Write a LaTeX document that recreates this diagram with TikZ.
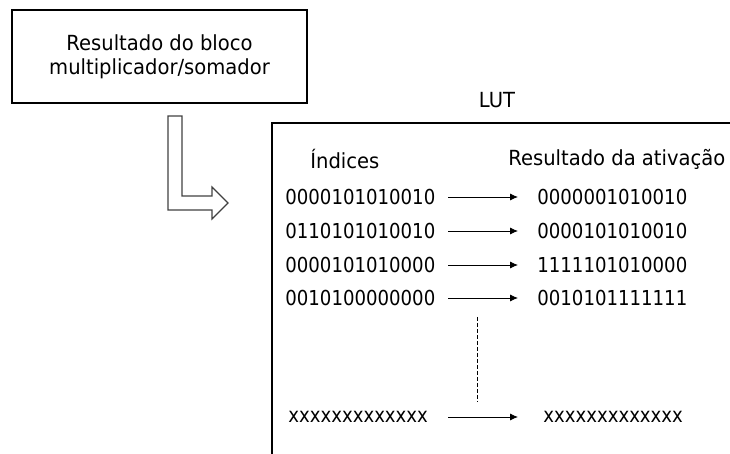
\documentclass[tikz,border=0pt]{standalone}
\usepackage{fontspec}
\setmainfont{DejaVu Sans}[FakeStretch=0.94]
\newfontfamily\bitfont{DejaVu Sans}[FakeStretch=0.88]
\usetikzlibrary{arrows.meta}

\begin{document}
\begin{tikzpicture}[
  x=0.5pt, y=-0.5pt,
  box/.style={draw, thick, minimum width=147.5pt, minimum height=46.5pt, align=center, font=\fontsize{10.4}{12.2}\selectfont},
  txt/.style={anchor=west, inner sep=0pt, font=\fontsize{10.4}{12}\selectfont},
  bits/.style={anchor=west, inner sep=0pt, font=\bitfont\fontsize{10.3}{12}\selectfont},
  arr/.style={-{Latex[length=4pt,width=3.5pt]}, thin},
  frame/.style={draw, line width=0.7pt}
]
  \useasboundingbox (0,0) rectangle (730,454);

  % source block
  \node[box] (blk) at (159.5,56.5) {Resultado do bloco\\multiplicador/somador};

  % hollow bent arrow
  \draw[line width=0.6pt, draw=black!75] (168,116) -- (182,116) -- (182,196) -- (212,196) -- (212,187)
    -- (228,203) -- (212,219) -- (212,210) -- (168,210) -- cycle;

  % LUT frame (open on the right and bottom)
  \coordinate (lutbl) at (272,454);
  \coordinate (luttl) at (272,123);
  \coordinate (luttr) at (730,123);
  \draw[frame] (lutbl) -- (luttl) -- (luttr);
  \node[inner sep=0pt, font=\fontsize{10.4}{12}\selectfont] (lut) at (497,100) {LUT};

  % headers
  \node[txt] (hidx) at (310,159) {Índices};
  \node[txt] (hres) at (508,159) {Resultado da ativação};

  % table rows
  \node[bits] (i1) at (285,197) {0000101010010};
  \node[bits] (i2) at (285,231) {0110101010010};
  \node[bits] (i3) at (285,265) {0000101010000};
  \node[bits] (i4) at (285,298) {0010100000000};
  \node[bits] (ix) at (288,417) {xxxxxxxxxxxxx};

  \node[bits] (o1) at (537,197) {0000001010010};
  \node[bits] (o2) at (537,231) {0000101010010};
  \node[bits] (o3) at (537,265) {1111101010000};
  \node[bits] (o4) at (537,298) {0010101111111};
  \node[bits] (ox) at (543,417) {xxxxxxxxxxxxx};

  % arrow columns
  \coordinate (astart) at (448,0);
  \coordinate (aend) at (518,0);
  \foreach \r in {1,2,3,4,x}
    \draw[arr] (i\r.east -| astart) -- (o\r.west -| aend);

  % continuation
  \coordinate (dtop) at (477,317);
  \coordinate (dbot) at (477,402);
  \draw[dashed, dash pattern=on 2pt off 1pt, thin] (dtop) -- (dbot);
\end{tikzpicture}
\end{document}
